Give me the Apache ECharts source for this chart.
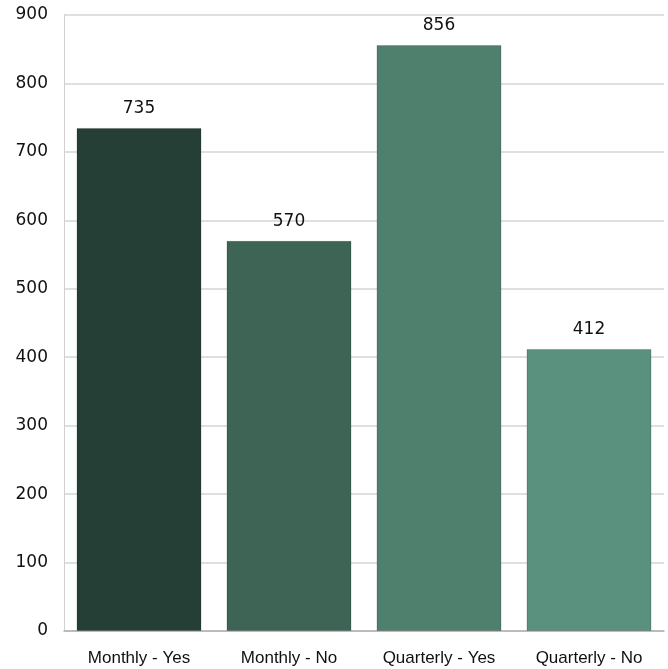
<!DOCTYPE html>
<html>
<head>
<meta charset="utf-8">
<script src="https://cdn.jsdelivr.net/npm/echarts@6/dist/echarts.min.js"></script>
<style>
  html, body { margin: 0; padding: 0; background: #fff; }
  #chart { width: 668px; height: 669px; }
</style>
</head>
<body>
<div id="chart"></div>
<script>
const categories = ["Monthly - Yes", "Monthly - No", "Quarterly - Yes", "Quarterly - No"];
const counts = [735, 570, 856, 412];
const barColors = ["#263f36", "#3e6455", "#4f806d", "#5a917e"];
const yTicks = [0, 900, 100]; // min, max, interval

let chartDom = document.getElementById("chart");
let myChart = echarts.init(chartDom);

let option = {
  backgroundColor: "#ffffff",
  animation: false,
  grid: { left: 64, right: 4, top: 15, bottom: 38 },
  xAxis: {
    type: "category",
    data: categories,
    axisLine: { lineStyle: { color: "#b0b0b0", width: 1.5 } },
    axisTick: { show: false },
    axisLabel: {
      color: "#111",
      fontSize: 17,
      fontFamily: "Liberation Sans, Arial, sans-serif",
      margin: 19,
    },
  },
  yAxis: {
    type: "value",
    min: yTicks[0],
    max: yTicks[1],
    interval: yTicks[2],
    axisLine: { show: true, lineStyle: { color: "#d0d0d0" } },
    axisTick: { show: false },
    splitLine: { lineStyle: { color: "#d4d4d4", width: 1.5 } },
    axisLabel: {
      color: "#111",
      fontSize: 17,
      fontFamily: "DejaVu Sans, sans-serif",
      margin: 16,
    },
  },
  series: [
    {
      type: "bar",
      barWidth: 125,
      data: counts.map((v, i) => ({
        value: v,
        itemStyle: { color: barColors[i], borderColor: "rgba(0,0,0,0.18)", borderWidth: 1 },
      })),
      label: {
        show: true,
        position: "top",
        distance: 11,
        color: "#111",
        fontSize: 17,
        fontFamily: "DejaVu Sans, sans-serif",
      },
    },
  ],
};

myChart.setOption(option);
</script>
</body>
</html>
